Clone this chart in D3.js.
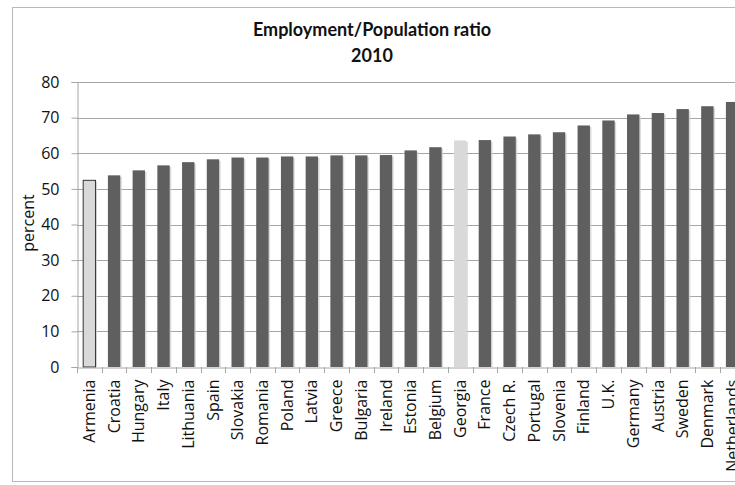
<!DOCTYPE html>
<html>
<head>
<meta charset="utf-8">
<script src="https://cdn.jsdelivr.net/npm/d3@7"></script>
<style>
  html, body { margin: 0; padding: 0; background: #fff; }
  svg { display: block; }
</style>
</head>
<body>
<svg id="chart" width="735" height="485"></svg>
<script>
// Employment / population ratio by country, 2010 (percent)
const countries = ["Armenia", "Croatia", "Hungary", "Italy", "Lithuania", "Spain", "Slovakia",
  "Romania", "Poland", "Latvia", "Greece", "Bulgaria", "Ireland", "Estonia", "Belgium",
  "Georgia", "France", "Czech R.", "Portugal", "Slovenia", "Finland", "U.K.", "Germany",
  "Austria", "Sweden", "Denmark", "Netherlands"];
const ratios = [52.4, 53.8, 55.2, 56.6, 57.5, 58.3, 58.8, 58.8, 59.1, 59.1, 59.4, 59.4, 59.5,
  60.8, 61.7, 63.6, 63.7, 64.7, 65.3, 65.9, 67.8, 69.2, 70.9, 71.3, 72.4, 73.2, 74.4];
const highlighted = ["Armenia", "Georgia"];
const yTicks = [0, 10, 20, 30, 40, 50, 60, 70, 80];
const titleLines = ["Employment/Population ratio", "2010"];
const yAxisLabel = "percent";

const data = countries.map((c, i) => ({ country: c, value: ratios[i] }));

const svg = d3.select("#chart");
const W = 735, H = 485;
const plot = { left: 77, top: 82, bottom: 367 };
const step = 24.72;

// outer frame (runs past the right edge)
svg.append("rect")
  .attr("x", 12.5).attr("y", 7.5)
  .attr("width", W + 20).attr("height", 474)
  .attr("fill", "#fff").attr("stroke", "#b8b8b8").attr("stroke-width", 1);

const x = d3.scaleBand()
  .domain(countries)
  .range([plot.left, plot.left + step * countries.length])
  .paddingInner(0.5)
  .paddingOuter(0.25);

const y = d3.scaleLinear().domain([0, 80]).range([plot.bottom, plot.top]);

// title
const title = svg.append("text")
  .attr("x", 372).attr("y", 36)
  .attr("text-anchor", "middle")
  .attr("font-family", "Lato, 'Open Sans', sans-serif")
  .attr("font-weight", "bold")
  .attr("font-size", 18)
  .attr("fill", "#111");
titleLines.forEach((t, i) => {
  title.append("tspan").attr("x", 372).attr("dy", i === 0 ? 0 : 26).text(t);
});

// gridlines
svg.append("g")
  .selectAll("line")
  .data(yTicks.filter(d => d > 0))
  .join("line")
  .attr("x1", plot.left).attr("x2", W + 10)
  .attr("y1", d => Math.round(y(d)) + 0.5).attr("y2", d => Math.round(y(d)) + 0.5)
  .attr("stroke", "#a6a6a6").attr("stroke-width", 1);

// y axis
const yAxis = svg.append("g")
  .attr("transform", `translate(${plot.left + 0.5},0)`)
  .call(d3.axisLeft(y).tickValues(yTicks).tickSize(6).tickPadding(12));
yAxis.select(".domain").attr("stroke", "#a6a6a6");
yAxis.selectAll(".tick line").attr("stroke", "#a6a6a6");
yAxis.selectAll(".tick text")
  .attr("font-family", "'Open Sans', sans-serif")
  .attr("font-size", 16)
  .attr("fill", "#111");

svg.append("text")
  .attr("transform", `translate(28,223) rotate(-90)`)
  .attr("text-anchor", "middle")
  .attr("dy", "0.35em")
  .attr("font-family", "'Open Sans', sans-serif")
  .attr("font-size", 16)
  .attr("fill", "#111")
  .text(yAxisLabel);

// bar shadows
svg.append("g")
  .selectAll("rect")
  .data(data)
  .join("rect")
  .attr("x", d => x(d.country) + 1.5)
  .attr("y", d => y(d.value) + 1.5)
  .attr("width", x.bandwidth())
  .attr("height", d => y(0) - y(d.value) - 1.5)
  .attr("fill", "#d0d0d0")
  .attr("opacity", 0.8);

// bars
svg.append("g")
  .selectAll("rect")
  .data(data)
  .join("rect")
  .attr("x", d => x(d.country))
  .attr("y", d => y(d.value))
  .attr("width", x.bandwidth())
  .attr("height", d => y(0) - y(d.value))
  .attr("fill", d => highlighted.includes(d.country) ? "#d9d9d9" : "#5f5f5f")
  .attr("stroke", d => d.country === "Armenia" ? "#333" : "none")
  .attr("stroke-width", 1);

// x axis
const xAxis = svg.append("g")
  .attr("transform", `translate(0,${plot.bottom + 0.5})`)
  .call(d3.axisBottom(x).tickSize(0).tickPadding(0));
xAxis.select(".domain").attr("stroke", "#a6a6a6");
xAxis.selectAll(".tick text")
  .attr("transform", "translate(0,12) rotate(-90)")
  .attr("text-anchor", "end")
  .attr("dy", "0.35em")
  .attr("y", 0)
  .attr("x", 0)
  .attr("font-family", "'Open Sans', sans-serif")
  .attr("font-size", 16)
  .attr("fill", "#111");

// category separators on the x axis
svg.append("g")
  .selectAll("line")
  .data(d3.range(countries.length + 1))
  .join("line")
  .attr("x1", i => Math.round(plot.left + i * step) + 0.5)
  .attr("x2", i => Math.round(plot.left + i * step) + 0.5)
  .attr("y1", plot.bottom)
  .attr("y2", plot.bottom + 6)
  .attr("stroke", "#a6a6a6");
</script>
</body>
</html>
